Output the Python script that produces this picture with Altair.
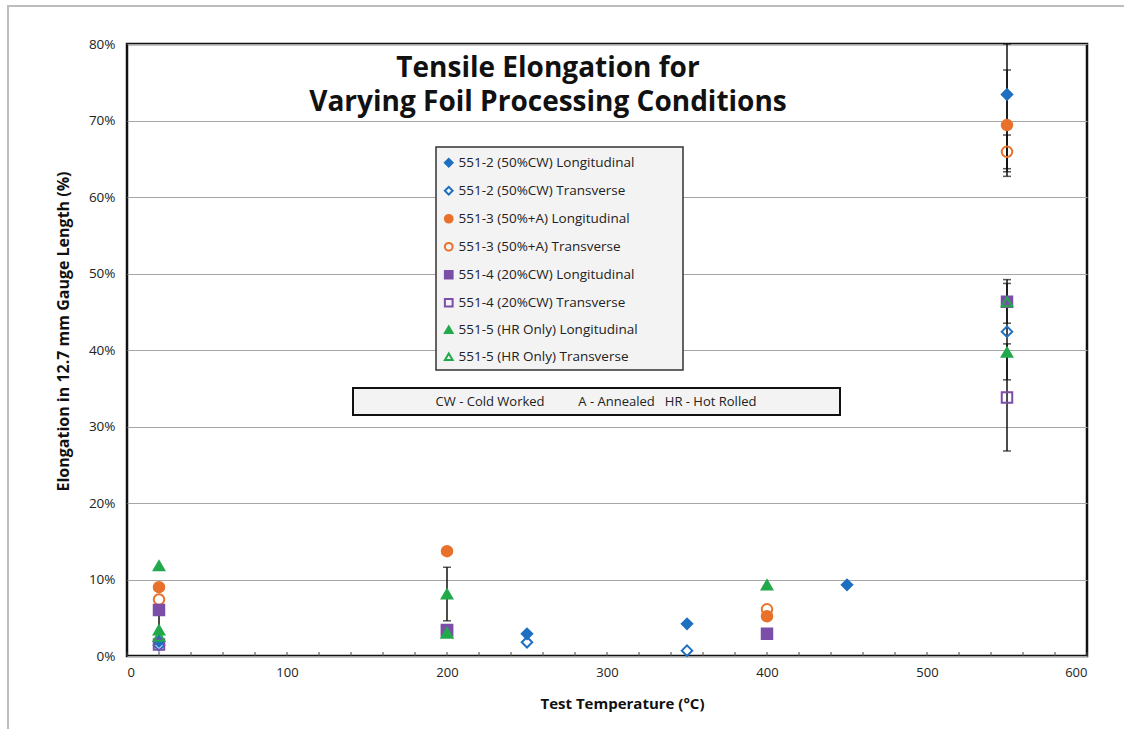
import altair as alt
import pandas as pd

# ---------------- data ----------------
series = [
    "551-2 (50%CW) Longitudinal",
    "551-2 (50%CW) Transverse",
    "551-3 (50%+A) Longitudinal",
    "551-3 (50%+A) Transverse",
    "551-4 (20%CW) Longitudinal",
    "551-4 (20%CW) Transverse",
    "551-5 (HR Only) Longitudinal",
    "551-5 (HR Only) Transverse",
]
colors = ["#1f6fc1", "#1f6fc1", "#e8712b", "#e8712b",
          "#7b4ea7", "#7b4ea7", "#22a94c", "#22a94c"]
fills = ["#1f6fc1", "transparent", "#e8712b", "transparent",
         "#7b4ea7", "transparent", "#22a94c", "transparent"]
shapes = ["diamond", "diamond", "circle", "circle",
          "square", "square", "triangle-up", "triangle-up"]

s1_temp = [20, 250, 350, 450, 550]
s1_val = [1.9, 2.9, 4.2, 9.3, 73.4]
s2_temp = [20, 250, 350, 550]
s2_val = [1.4, 1.8, 0.7, 42.4]
s3_temp = [20, 200, 400, 550]
s3_val = [9.0, 13.7, 5.2, 69.4]
s4_temp = [20, 400, 550]
s4_val = [7.4, 6.1, 65.9]
s5_temp = [20, 200, 400, 550]
s5_val = [6.0, 3.3, 2.9, 46.3]
s6_temp = [20, 200, 550]
s6_val = [1.5, 3.4, 33.8]
s7_temp = [20, 20, 200, 200, 400, 550]
s7_val = [11.8, 3.4, 8.1, 3.0, 9.3, 39.7]
s8_temp = [20, 200, 550]
s8_val = [2.6, 3.0, 46.3]

temps = [s1_temp, s2_temp, s3_temp, s4_temp, s5_temp, s6_temp, s7_temp, s8_temp]
vals = [s1_val, s2_val, s3_val, s4_val, s5_val, s6_val, s7_val, s8_val]

# error bars
err_temp = [20, 200, 550, 550, 550, 550, 550, 550]
err_lo = [2.2, 4.6, 63.3, 62.7, 63.7, 43.5, 36.1, 26.8]
err_hi = [5.8, 11.6, 80.0, 76.6, 68.1, 49.2, 48.7, 40.8]

x_labels = [0, 100, 200, 300, 400, 500, 600]
x_minor = list(range(0, 601, 20))
y_labels = [0, 10, 20, 30, 40, 50, 60, 70, 80]

title_lines = ["Tensile Elongation for", "Varying Foil Processing Conditions"]

rows = []
for name, t, v in zip(series, temps, vals):
    for ti, vi in zip(t, v):
        rows.append({"series": name, "temp": ti, "val": vi})
df = pd.DataFrame(rows)
err = pd.DataFrame({"temp": err_temp, "lo": err_lo, "hi": err_hi})
err_caps = pd.DataFrame({"temp": err_temp + err_temp, "v": err_lo + err_hi})
ticks_df = pd.DataFrame({"temp": x_minor})

FONT = "Open Sans"
W, H = 960, 612
NB = "\u00a0"

xscale = alt.Scale(domain=[0, 600], nice=False)
yscale = alt.Scale(domain=[0, 80], nice=False)

xaxis = alt.Axis(values=x_labels, grid=False, ticks=False, domain=False,
                 labelFont=FONT, labelFontSize=13, labelColor="#222",
                 labelPadding=10, title="Test Temperature (°C)",
                 titleFont=FONT, titleFontSize=15, titleFontWeight="bold",
                 titleColor="#111", titleX=495, titleY=40)
yaxis = alt.Axis(values=y_labels, grid=True, gridColor="#a6a6a6", gridWidth=1,
                 ticks=False, domain=False, labelExpr="datum.value + '%'",
                 labelFont=FONT, labelFontSize=13.5, labelColor="#222",
                 labelPadding=12, title="Elongation in 12.7 mm Gauge Length (%)",
                 titleFont=FONT, titleFontSize=16, titleFontWeight="bold",
                 titleColor="#111", titleX=-56, titleY=287)

legend = alt.Legend(orient="none", legendX=315, legendY=112, title=None,
                    labelFont=FONT, labelFontSize=13.5, labelColor="#222",
                    symbolSize=60, symbolStrokeWidth=2, rowPadding=11,
                    labelOffset=3, padding=0, labelLimit=400, zindex=2)

one = pd.DataFrame({"a": [0]})

outer = alt.Chart(one).mark_rect(fill="transparent", stroke="#bdbdbd", strokeWidth=2).encode(
    x=alt.value(-119), x2=alt.value(1100), y=alt.value(-38), y2=alt.value(720))

base_axes = alt.Chart(df).mark_point(opacity=0).encode(
    x=alt.X("temp:Q", scale=xscale, axis=xaxis),
    y=alt.Y("val:Q", scale=yscale, axis=yaxis),
)

legend_box = alt.Chart(one).mark_rect(fill="#f3f3f3", stroke="#333", strokeWidth=1.5).encode(
    x=alt.value(309), x2=alt.value(556), y=alt.value(103), y2=alt.value(326))

note_box = alt.Chart(one).mark_rect(fill="#f3f3f3", stroke="#111", strokeWidth=2).encode(
    x=alt.value(226), x2=alt.value(713), y=alt.value(344), y2=alt.value(371))

note_text = alt.Chart(one).mark_text(font=FONT, fontSize=13, color="#222",
                                     align="center", baseline="middle").encode(
    x=alt.value(469), y=alt.value(358),
    text=alt.value("CW - Cold Worked" + NB * 10 + "A - Annealed" + NB * 3 + "HR - Hot Rolled"))

title = alt.Chart(one).mark_text(font=FONT, fontSize=28, fontWeight="bold", color="#111",
                                 align="center", baseline="middle", lineHeight=34).encode(
    x=alt.value(421), y=alt.value(25), text=alt.value(title_lines))

err_rules = alt.Chart(err).mark_rule(color="#111", strokeWidth=1.5).encode(
    x=alt.X("temp:Q", scale=xscale), y=alt.Y("lo:Q", scale=yscale), y2="hi:Q")
err_tick = alt.Chart(err_caps).mark_tick(color="#111", thickness=1.5, size=8,
                                         orient="horizontal").encode(
    x=alt.X("temp:Q", scale=xscale), y=alt.Y("v:Q", scale=yscale))

points = alt.Chart(df).mark_point(strokeWidth=2, opacity=1, size=110).encode(
    x=alt.X("temp:Q", scale=xscale),
    y=alt.Y("val:Q", scale=yscale),
    stroke=alt.Stroke("series:N", scale=alt.Scale(domain=series, range=colors), legend=legend),
    fill=alt.Fill("series:N", scale=alt.Scale(domain=series, range=fills), legend=legend),
    shape=alt.Shape("series:N", scale=alt.Scale(domain=series, range=shapes), legend=legend),
    order=alt.Order("idx:Q"),
).transform_window(idx="row_number()")

minor_ticks = alt.Chart(ticks_df).mark_rule(color="#444", strokeWidth=1).encode(
    x=alt.X("temp:Q", scale=xscale), y=alt.value(H), y2=alt.value(H - 4))

chart = alt.layer(
    outer, base_axes, legend_box, note_box, note_text, title,
    err_rules, err_tick, points, minor_ticks
).properties(
    width=W, height=H,
    autosize=alt.AutoSizeParams(type="none"),
    padding={"left": 127, "top": 44, "right": 37, "bottom": 73},
    background="white",
).configure_view(stroke="#111", strokeWidth=2.5)

chart.save("out.html", embed_options={"renderer": "svg", "actions": False})
